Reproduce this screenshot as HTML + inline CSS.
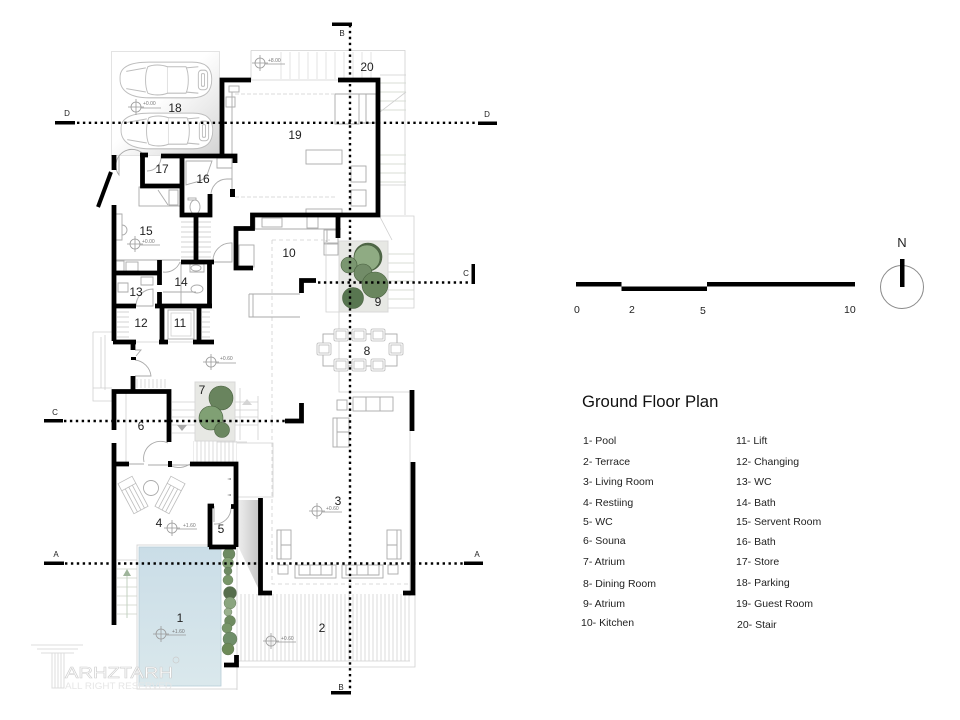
<!DOCTYPE html>
<html><head><meta charset="utf-8"><style>
html,body{margin:0;padding:0;background:#fff}
svg{display:block}
text{font-family:"Liberation Sans",sans-serif;fill:#222}
.w{fill:none;stroke:#000;stroke-width:4.8;stroke-linecap:butt;stroke-linejoin:miter}
.l{fill:none;stroke:#cfcfcf;stroke-width:.8}
.m{fill:none;stroke:#aaa;stroke-width:.9}
.d{fill:none;stroke:#000;stroke-width:2.4;stroke-dasharray:2.4 3.5}
.r{font-size:12px;text-anchor:middle}
.s{font-size:10.500px}
.e{font-size:5px;fill:#777}
.x{font-size:8px;text-anchor:middle}
</style></head><body>
<svg width="960" height="720" viewBox="0 0 960 720" xmlns="http://www.w3.org/2000/svg">
<defs>
<pattern id="hv" width="4" height="4" patternUnits="userSpaceOnUse"><path d="M1 0V4" stroke="#d2d2d2" stroke-width=".8"/></pattern>
<pattern id="hh" width="5" height="5" patternUnits="userSpaceOnUse"><path d="M0 2H5" stroke="#c8c8c8" stroke-width=".8"/></pattern>
<pattern id="hh9" width="9" height="9" patternUnits="userSpaceOnUse"><path d="M0 2H9" stroke="#d4dbd2" stroke-width=".9"/></pattern>
<pattern id="hv9" width="9" height="9" patternUnits="userSpaceOnUse"><path d="M2 0V9" stroke="#e0e0e0" stroke-width=".9"/></pattern>
<linearGradient id="pk" x1="0" y1="0" x2="1" y2="1"><stop offset=".45" stop-color="#fff"/><stop offset=".8" stop-color="#e4e4e4"/><stop offset="1" stop-color="#d2d2d2"/></linearGradient>
<linearGradient id="sh" x1="0" y1="0" x2="1" y2="0"><stop offset="0" stop-color="#eee"/><stop offset="1" stop-color="#c4c4c4"/></linearGradient>
<linearGradient id="pl" x1="0" y1="0" x2="0" y2="1"><stop offset="0" stop-color="#cadde7"/><stop offset="1" stop-color="#dae8ec"/></linearGradient>
<g id="car" fill="#fff" stroke="#bdbdbd" stroke-width=".9">
<path d="M2 14C2 5 12 1 30 1H72C84 1 91 5 91 16C91 27 84 32 72 32H30C12 32 2 26 2 16Z"/>
<path d="M29 5C34 3 42 3 48 5V28C42 30 34 30 29 28C26 22 26 11 29 5Z"/>
<path d="M48 5H66C69 11 69 22 66 28H48"/>
<path d="M8 9L27 6M8 24L27 27M66 6L78 5M66 27L78 28"/>
<rect x="78" y="8" width="9" height="17" rx="3"/>
<rect x="81" y="11" width="3" height="11" rx="1"/>
</g>
<g id="mk" fill="none" stroke="#999" stroke-width=".8"><circle r="5"/><path d="M-8 0H8M0 -8V8M5 1H25"/></g>
<g id="ch" fill="#fff" stroke="#b9b9b9" stroke-width=".8"><rect x="-7" y="-6" width="14" height="12" rx="1.5"/><rect x="-5" y="-4" width="10" height="8"/></g>
<g id="lg" fill="#fff" stroke="#bcbcbc" stroke-width=".8"><rect x="-8" y="-17" width="16" height="34"/><path d="M-8 -9H8M-4 -9V17M0 -9V17M4 -9V17"/></g>
</defs>

<!-- parking -->
<rect x="111.500" y="51.500" width="108" height="104" fill="url(#pk)" stroke="#ddd" stroke-width=".8"/>
<use href="#car" transform="translate(118 61) scale(1.03 1.15)"/>
<use href="#car" transform="translate(119 112) scale(1.03 1.15)"/>

<!-- top stair / 20 -->
<path class="l" d="M251 50.500H405V215M251 50.500V80M251 80H338"/>
<rect x="280" y="52" width="98" height="27" fill="url(#hv9)"/>
<rect x="380" y="76" width="26" height="36" fill="url(#hh9)"/>
<rect x="380" y="149" width="26" height="36" fill="url(#hh9)"/>
<path class="l" d="M380 112L406 92M380 185H406M380 75H406"/>
<!-- guest room details -->
<path class="l" stroke-dasharray="4 2" d="M235 94H334M235 197H336"/>
<path class="m" d="M335 94V124H359V94ZM335 94H366V124"/>
<rect x="229" y="86" width="10" height="6" class="m"/><rect x="226" y="97" width="9" height="10" class="m"/>
<rect x="306" y="150" width="36" height="14" class="m"/>
<rect x="351" y="166" width="15" height="16" class="m"/><rect x="351" y="190" width="15" height="16" class="m"/>
<rect x="306" y="209" width="36" height="6" class="m"/>
<path class="m" d="M362 94H376V123H361M232 92V155M232 160V195"/>
<!-- store, 16 fixtures -->
<rect x="139" y="187" width="42" height="19" class="m"/>
<path class="m" d="M158 190L168 205M169 190H178V205H169ZM145 156A16 16 0 0 0 119 175V156M147 171A14 14 0 0 0 161 156"/>
<path class="m" d="M186 161L212 161L207 175C203 182 194 182 186 185ZM217 158H232V168H217ZM211 196A16 16 0 0 1 227 179H232V197"/>
<ellipse cx="195" cy="207" rx="5" ry="7" class="m"/><rect x="188" y="198" width="8" height="2" class="m"/>
<rect x="181" y="217" width="13" height="45" fill="url(#hh)"/><rect x="198" y="217" width="13" height="45" fill="url(#hh)"/>
<!-- 15 -->
<path class="m" d="M116 214H122V240H116M122 225A5 5 0 0 1 122 235M116 260H180M116 262V270"/>
<rect x="116" y="261" width="8" height="10" class="m"/><rect x="126" y="262" width="12" height="9" class="m"/>
<!-- kitchen -->
<path class="m" d="M255 217V229H310M310 229H327V242M310 229H341"/>
<rect x="262" y="218" width="20" height="9" class="m"/><rect x="307" y="216" width="11" height="12" class="m"/>
<rect x="324" y="230" width="14" height="14" class="m"/><rect x="324" y="243" width="14" height="12" class="m"/>
<rect x="239" y="245" width="15" height="22" class="m"/><path class="m" d="M213 262A18 18 0 0 1 232 243V262ZM213 262H232"/>
<path class="l" stroke-dasharray="4 3" d="M272 240H330M272 240V584H410"/>
<path class="m" d="M249 294H300M249 294V317H300M253 294V317"/>
<path class="l" d="M326 240V312H339M339 312V392H412"/>
<!-- atrium 9 stair -->
<rect x="388" y="249" width="26" height="55" fill="url(#hh9)"/>
<path class="l" d="M378 216H414V308H388M380 217L392 240"/>
<!-- baths -->
<path class="m" d="M141 277H153V285H141ZM118 283H128V292H118ZM153 289V306H136A17 17 0 0 1 153 289ZM163 292H196M181 262V305M163 272A16 16 0 0 0 180 262M190 264H204V272H190Z"/>
<ellipse cx="197" cy="289" rx="6" ry="4" class="m"/><ellipse cx="196" cy="268" rx="5" ry="3" class="m"/>
<rect x="117" y="310" width="12" height="30" fill="url(#hh)"/><rect x="202" y="310" width="8" height="29" fill="url(#hh)"/>
<rect x="168" y="310" width="26" height="29" class="m"/><rect x="171" y="313" width="20" height="23" class="l"/>
<!-- lobby -->
<path class="l" d="M133 342H214M93 332H112M93 332V401H112M101 337V388M105 335V390M112 388H93"/>
<path class="m" d="M135 350H141L136 356M135 360A18 18 0 0 1 151 376H135"/>
<rect x="135" y="379" width="32" height="9" fill="url(#hv)"/>
<path class="l" d="M172 402H195M172 410H195M172 417H195M172 425H195M172 433H195M235 402H258M235 410H258M235 417H258M235 425H258M240 388V440M258 396V440"/>
<path d="M247 399L242 405H252Z" fill="#d5d5d5"/><path d="M182 431L177 425H187Z" fill="#aaa"/>
<path class="m" d="M144 462A17 17 0 0 1 168 443M129 464H144M148 465H190M171 466A20 20 0 0 0 190 464"/>
<path class="l" d="M126 393V464"/>
<!-- stairs & outer -->
<rect x="193" y="441" width="44" height="22" fill="url(#hv)"/>
<path class="l" d="M237 443H273V497H237M217 442H247"/>
<!-- lounge -->
<circle cx="151" cy="488" r="7.500" class="m"/>
<use href="#lg" transform="translate(133 495) rotate(-28)"/><use href="#lg" transform="translate(170 495) rotate(28)"/>
<path d="M231 478l-4 1 4 1ZM231 494l-4 1 4 1Z" fill="#999"/>
<path class="m" d="M214 506V522M214 524A16 16 0 0 0 231 508"/>
<!-- shadow -->
<path d="M238 500H260V592L238 546Z" fill="url(#sh)"/>
<!-- terrace -->
<rect x="238" y="594" width="172" height="67" fill="url(#hv)"/>
<path class="l" d="M238 661H410M237 667H415V594M237 666V690"/>
<!-- left stair -->
<rect x="117" y="566" width="20" height="54" fill="url(#hh9)"/>
<path d="M127 569L123 576H131Z" fill="#9fb59b"/><path d="M127 576V618" stroke="#c3d2c0" stroke-width="1"/>
<path class="l" d="M117 560H137"/>
<!-- pool -->
<rect x="137" y="545" width="100" height="144" fill="none" stroke="#d4d4d4" stroke-width=".9"/>
<rect x="139" y="547" width="82" height="139" fill="url(#pl)" stroke="#b8ced8" stroke-width=".8"/>
<!-- dining -->
<rect x="323" y="334" width="74" height="32" class="m" fill="#fff"/>
<use href="#ch" x="341" y="335"/><use href="#ch" x="359" y="335"/><use href="#ch" x="378" y="335"/>
<use href="#ch" x="341" y="365"/><use href="#ch" x="359" y="365"/><use href="#ch" x="378" y="365"/>
<use href="#ch" x="324" y="349"/><use href="#ch" x="396" y="349"/>
<!-- living -->
<rect x="353" y="397" width="40" height="14" class="m"/><path class="m" d="M366 397V411M380 397V411"/>
<rect x="337" y="400" width="10" height="10" class="m"/>
<rect x="333" y="418" width="16" height="29" class="m"/><path class="m" d="M337 418V447M337 432H349"/>
<path class="l" d="M410 391V596"/>
<rect x="277" y="530" width="14" height="29" class="m"/><path class="m" d="M281 530V559M281 545H291"/>
<rect x="387" y="530" width="14" height="29" class="m"/><path class="m" d="M397 530V559M387 545H397"/>
<rect x="295" y="565" width="41" height="13" class="m"/><path class="m" d="M299 565V575H332V565M310 565V575M321 565V575"/>
<rect x="342" y="565" width="41" height="13" class="m"/><path class="m" d="M346 565V575H379V565M357 565V575M368 565V575"/>
<rect x="278" y="565" width="10" height="9" class="m"/><rect x="388" y="565" width="10" height="9" class="m"/>
<!-- atriums -->
<rect x="339" y="241" width="49" height="71" fill="#e7e8e4" stroke="#d8d8d8"/>
<g stroke="#49603f" stroke-width=".6">
<circle cx="368" cy="257" r="14" fill="#4f6748"/><circle cx="367" cy="258" r="13" fill="#8fab83"/>
<circle cx="349" cy="265" r="8" fill="#7a9670"/><circle cx="363" cy="273" r="9" fill="#728c68"/>
<circle cx="375" cy="285" r="13" fill="#6a865e"/><circle cx="353" cy="298" r="10.500" fill="#587650"/>
</g>
<rect x="195" y="382" width="40" height="59" fill="#e7e8e4" stroke="#d8d8d8"/>
<g stroke="#49603f" stroke-width=".6">
<circle cx="221" cy="398" r="12" fill="#69845e"/><circle cx="211" cy="418" r="12" fill="#80a074"/><circle cx="222" cy="430" r="7.500" fill="#6a875f"/>
</g>
<g stroke="#5a7050" stroke-width=".4">
<circle cx="229" cy="554" r="6" fill="#6d8a62"/><circle cx="228" cy="563" r="5.500" fill="#82a074"/><circle cx="228" cy="571" r="4" fill="#6d8a62"/><circle cx="228" cy="580" r="5" fill="#789669"/><circle cx="230" cy="593" r="6.500" fill="#566e4d"/><circle cx="230" cy="603" r="6" fill="#8aa57f"/><circle cx="228" cy="612" r="4" fill="#9ab18e"/><circle cx="230" cy="621" r="5.500" fill="#6e8b60"/><circle cx="227" cy="628" r="5" fill="#789669"/><circle cx="230" cy="639" r="7" fill="#6f8e69"/><circle cx="228" cy="649" r="6" fill="#6d8a58"/>
</g>
<!-- walls -->
<path class="w" d="M251 80H222V156M161 156H235V163"/>
<path class="w" d="M338 80H378V215H252.500V228.500H236V268H253"/>
<path class="w" d="M338 215V238M114 155V170"/>
<path stroke="#000" stroke-width="4" d="M98 207L111 172"/>
<path class="w" d="M140 155H148M142.500 155V186H182M182 156V215H210V194"/>
<rect x="230" y="189" width="5" height="8"/>
<path class="w" d="M114 205V341M181 262H214M196 215V262M209.500 262V306M159.500 260V285M159.500 292V307"/>
<path class="w" d="M113 273H159M113 306H136M155 306H212M162 306V342M199 306V342"/>
<path class="w" d="M113 342H136M159 342H168M193 342H214M133 342V350M133 376V390"/>
<rect x="131" y="357" width="5" height="3"/>
<path class="w" d="M114 430V391.500H169V442M114 443V625"/>
<path class="w" d="M113 464H129M190 464H236V547M209 547H236M210 547V506H214M231 506.500H236"/>
<rect x="168" y="461" width="4" height="6"/>
<path class="w" d="M260.500 498V593H272M413 462V593H403"/>
<path class="w" d="M224 665H236.500V655M316 280.500H301.500V293M301.500 403V421H285M412 390V431"/>
<!-- section lines -->
<path class="d" d="M77 122.800H478M350 25V692M318 282.500H471M64 421H286M65 563.500H466"/>
<g fill="#000">
<rect x="55" y="121" width="20" height="3.500"/><rect x="478" y="121.500" width="19" height="3.500"/>
<rect x="332" y="22.500" width="20" height="3.500"/><rect x="331" y="691" width="20" height="3.500"/>
<rect x="471.500" y="264" width="3.500" height="20"/><rect x="44" y="419" width="19" height="3.500"/>
<rect x="44" y="561.500" width="20" height="3.500"/><rect x="464" y="561.500" width="19" height="3.500"/>
</g>
<text class="x" x="67" y="116">D</text><text class="x" x="487" y="117">D</text>
<text class="x" x="342" y="36">B</text><text class="x" x="341" y="690">B</text>
<text class="x" x="466" y="276">C</text><text class="x" x="55" y="415">C</text>
<text class="x" x="56" y="557">A</text><text class="x" x="477" y="557">A</text>
<!-- level markers -->
<use href="#mk" x="260" y="63"/><text class="e" x="268" y="62">+8.00</text>
<use href="#mk" x="136" y="107"/><text class="e" x="143" y="105">+0.00</text>
<use href="#mk" x="135" y="244"/><text class="e" x="142" y="243">+0.00</text>
<use href="#mk" x="211" y="362"/><text class="e" x="220" y="360">+0.60</text>
<use href="#mk" x="317" y="511"/><text class="e" x="326" y="510">+0.60</text>
<use href="#mk" x="172" y="528"/><text class="e" x="183" y="527">+1.60</text>
<use href="#mk" x="161" y="634"/><text class="e" x="172" y="633">+1.60</text>
<use href="#mk" x="271" y="641"/><text class="e" x="281" y="640">+0.60</text>
<!-- room numbers -->
<text class="r" x="180" y="622">1</text><text class="r" x="322" y="632">2</text><text class="r" x="338" y="505">3</text>
<text class="r" x="159" y="527">4</text><text class="r" x="221" y="533">5</text><text class="r" x="141" y="430">6</text>
<text class="r" x="202" y="394">7</text><text class="r" x="367" y="355">8</text><text class="r" x="378" y="306">9</text>
<text class="r" x="289" y="257">10</text><text class="r" x="180" y="327">11</text><text class="r" x="141" y="327">12</text>
<text class="r" x="136" y="296">13</text><text class="r" x="181" y="286">14</text><text class="r" x="146" y="235">15</text>
<text class="r" x="203" y="183">16</text><text class="r" x="162" y="173">17</text><text class="r" x="175" y="112">18</text>
<text class="r" x="295" y="139">19</text><text class="r" x="367" y="71">20</text>
<!-- watermark -->
<g fill="none" stroke="#dcdcdc" stroke-width="1">
<path d="M31 645H83M37 649H78M41 653H74M52 653V688H64V653M55 653V688M58 653V688M61 653V688"/>
</g>
<text x="65" y="678" textLength="108" lengthAdjust="spacingAndGlyphs" style="font-size:16px;fill:#fff;stroke:#d0d0d0;stroke-width:.6">ARHZTARH</text>
<text x="65" y="689" textLength="107" lengthAdjust="spacingAndGlyphs" style="font-size:9.500px;fill:#e6e6e6">ALL RIGHT RESERVED</text>
<circle cx="176" cy="660" r="3" fill="none" stroke="#ccc" stroke-width=".7"/>
<!-- scale -->
<g fill="#000"><rect x="576" y="282" width="45.500" height="4.500"/><rect x="621.500" y="286.500" width="85.500" height="4.500"/><rect x="707" y="282" width="148" height="4.500"/></g>
<text x="574" y="313" class="s">0</text><text x="629" y="313" class="s">2</text><text x="700" y="314" class="s">5</text><text x="844" y="313" class="s">10</text>
<text x="902" y="247" style="font-size:13px;text-anchor:middle">N</text>
<circle cx="902" cy="287" r="21.500" fill="none" stroke="#8a8a8a" stroke-width="1"/>
<rect x="900" y="259" width="4.500" height="28" fill="#000"/>
<!-- legend -->
<text x="582" y="407" style="font-size:16.700px;fill:#111">Ground Floor Plan</text>
<g>
<text class="s" x="583" y="444">1- Pool</text><text class="s" x="583" y="465">2- Terrace</text><text class="s" x="583" y="485">3- Living Room</text><text class="s" x="583" y="506">4- Restiing</text><text class="s" x="583" y="525">5- WC</text><text class="s" x="583" y="544">6- Souna</text><text class="s" x="583" y="565">7- Atrium</text><text class="s" x="583" y="587">8- Dining Room</text><text class="s" x="583" y="607">9- Atrium</text><text class="s" x="581" y="626">10- Kitchen</text>
<text class="s" x="736" y="444">11- Lift</text><text class="s" x="736" y="465">12- Changing</text><text class="s" x="736" y="485">13- WC</text><text class="s" x="736" y="506">14- Bath</text><text class="s" x="736" y="525">15- Servent Room</text><text class="s" x="736" y="545">16- Bath</text><text class="s" x="736" y="565">17- Store</text><text class="s" x="736" y="586">18- Parking</text><text class="s" x="736" y="607">19- Guest Room</text><text class="s" x="737" y="628">20- Stair</text>
</g>
</svg>
</body></html>
